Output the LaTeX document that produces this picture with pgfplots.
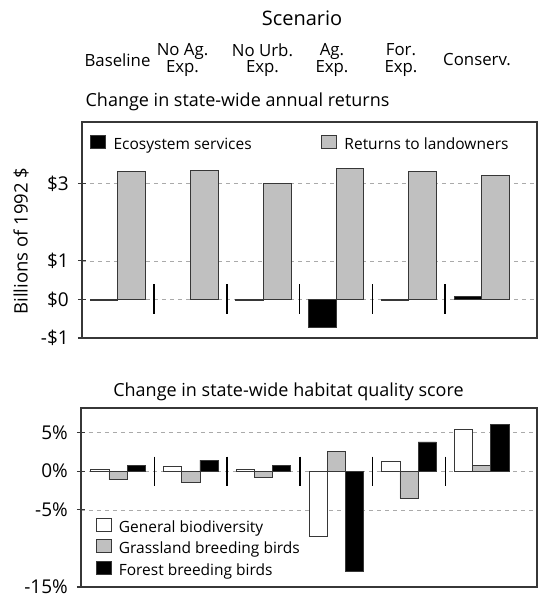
\documentclass[border=0pt]{standalone}
\usepackage{pgfplots}
\pgfplotsset{compat=1.18}
\usepackage{fontspec}
\setmainfont{Open Sans}
\definecolor{barg}{RGB}{192,192,192}
\definecolor{edge}{RGB}{55,55,55}
\definecolor{gridc}{RGB}{170,170,170}
\pgfplotsset{
  myaxis/.style={scale only axis, clip=false,
    axis line style={edge, line width=1.3pt},
    xtick=\empty, ymajorgrids,
    grid style={gridc, dash pattern=on 4pt off 4pt, line width=0.7pt},
    tick align=center, ytick pos=left, major tick length=8pt,
    tick style={edge, line width=1.1pt},
    yticklabel style={font=\fontsize{19}{19}\selectfont, inner sep=0pt,
      anchor=base east, xshift=-9pt, yshift=-6.6pt},
    legend cell align=left},
  mybar/.style={ybar, draw=edge, line width=0.8pt,
    legend image code/.code={\draw[##1, line width=0.8pt] (0pt,-4pt) rectangle (15pt,9pt);}},
  sep/.style={sharp plot, no marks, black, line width=1.6pt, unbounded coords=jump, forget plot}
}
\begin{document}
\begin{tikzpicture}[x=1pt,y=1pt]
\useasboundingbox (0,0) rectangle (541,-598);

% ---------- top axis ----------
\begin{axis}[myaxis, at={(82pt,-338pt)}, anchor=south west,
  width=455pt, height=216pt,
  xmin=-0.49, xmax=5.76, ymin=-1, ymax=4.6,
  ytick={-1,0,1,3}, yticklabels={-\$1,\$0,\$1,\$3},
  legend columns=2,
  legend style={at={(0.010,0.95)}, anchor=north west, draw=none, fill=none,
    font=\fontsize{15.5}{17}\selectfont,
    /tikz/every odd column/.append style={column sep=6pt},
    /tikz/every even column/.append style={column sep=67pt}}]
\addplot[mybar, bar width=0.38, bar shift=-0.19, fill=black] coordinates
  {(0,-0.03) (2,-0.03) (3,-0.72) (4,-0.03) (5,0.08)};
\addlegendentry{Ecosystem services}
\addplot[mybar, bar width=0.38, bar shift=0.19, fill=barg] coordinates
  {(0,3.31) (1,3.34) (2,3.00) (3,3.39) (4,3.31) (5,3.21)};
\addlegendentry{Returns to landowners}
\addplot[sep] coordinates {(0.5,0.40) (0.5,-0.38) (0.5,nan)
  (1.5,0.40) (1.5,-0.38) (1.5,nan) (2.5,0.40) (2.5,-0.38) (2.5,nan)
  (3.5,0.40) (3.5,-0.38) (3.5,nan) (4.5,0.40) (4.5,-0.38)};
\end{axis}

% ---------- bottom axis ----------
\begin{axis}[myaxis, at={(81pt,-587pt)}, anchor=south west,
  width=456pt, height=179pt,
  xmin=-0.51, xmax=5.76, ymin=-15, ymax=8.2,
  ytick={-15,-5,0,5}, yticklabels={-15\%,-5\%,0\%,5\%},
  legend style={at={(0.026,0.40)}, anchor=north west, draw=none, fill=none,
    font=\fontsize{15.5}{17}\selectfont, row sep=3.5pt,
    /tikz/every odd column/.append style={column sep=5pt}}]
\addplot[mybar, bar width=0.25, bar shift=-0.25, fill=white] coordinates
  {(0,0.3) (1,0.6) (2,0.3) (3,-8.5) (4,1.3) (5,5.4)};
\addlegendentry{General biodiversity}
\addplot[mybar, bar width=0.25, bar shift=0, fill=barg] coordinates
  {(0,-1.1) (1,-1.4) (2,-0.85) (3,2.55) (4,-3.5) (5,0.8)};
\addlegendentry{Grassland breeding birds}
\addplot[mybar, bar width=0.25, bar shift=0.25, fill=black] coordinates
  {(0,0.8) (1,1.45) (2,0.8) (3,-13.0) (4,3.8) (5,6.1)};
\addlegendentry{Forest breeding birds}
\addplot[sep] coordinates {(0.5,1.9) (0.5,-1.9) (0.5,nan)
  (1.5,1.9) (1.5,-1.9) (1.5,nan) (2.5,1.9) (2.5,-1.9) (2.5,nan)
  (3.5,1.9) (3.5,-1.9) (3.5,nan) (4.5,1.9) (4.5,-1.9)};
\end{axis}

% ---------- text ----------
\node[font=\fontsize{20}{22}\selectfont] at (302,-18) {Scenario};
\begin{scope}[every node/.style={font=\fontsize{16.8}{16.5}\selectfont, align=center}]
\node at (117.5,-60) {Baseline};
\node at (182.5,-60) {No Ag.\\Exp.};
\node at (262.5,-60) {No Urb.\\Exp.};
\node at (332,-60) {Ag.\\Exp.};
\node at (401,-60) {For.\\Exp.};
\node at (477,-60) {Conserv.};
\end{scope}
\node[font=\fontsize{18}{20}\selectfont] at (237.5,-102) {Change in state-wide annual returns};
\node[font=\fontsize{18}{20}\selectfont] at (288.5,-392) {Change in state-wide habitat quality score};
\node[rotate=90, font=\fontsize{18.5}{20}\selectfont] at (21,-241) {Billions of 1992 \$};
\end{tikzpicture}
\end{document}
